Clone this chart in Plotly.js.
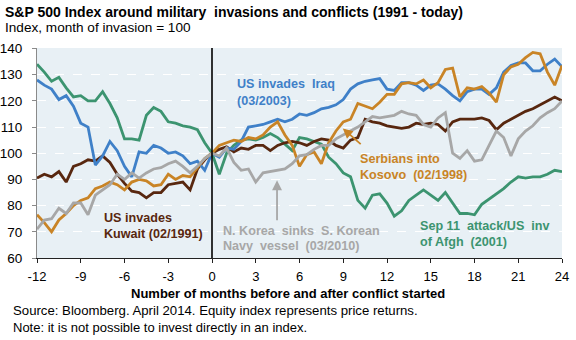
<!DOCTYPE html>
<html>
<head>
<meta charset="utf-8">
<script src="https://cdn.plot.ly/plotly-3.0.1.min.js"></script>
<style>html,body{margin:0;padding:0;background:#fff;}#chart{width:576px;height:340px;}</style>
</head>
<body>
<div id="chart"></div>
<script>
// Months before/after the conflict (x axis)
const months = [-12,-11.5,-11,-10.5,-10,-9.5,-9,-8.5,-8,-7.5,-7,-6.5,-6,-5.5,-5,-4.5,-4,-3.5,-3,-2.5,-2,-1.5,-1,-0.5,
  0,0.5,1,1.5,2,2.5,3,3.5,4,4.5,5,5.5,6,6.5,7,7.5,8,8.5,9,9.5,10,10.5,11,11.5,12,12.5,13,13.5,14,14.5,15,15.5,16,16.5,
  17,17.5,18,18.5,19,19.5,20,20.5,21,21.5,22,22.5,23,23.5,24];

const kuwait1991 = [90.5,92,91,93,89,95,96,97.5,97,99,96.5,92,88.5,85.5,85,83,85,85,88,88.5,89,86,94,97.5,
  100,101.5,102.5,100.5,102,101.5,103,103,101,103,104,104.5,104,103,104.5,105.5,105,103,102,105,106,113,112,111.5,
  110.5,110,109.5,110,111.5,111,111.5,111,108.5,112,113,113,113,113.5,112.5,109,111.5,113,114.5,116,117,118.5,120,121.5,120];

const kosovo1998 = [76.5,73.5,70,74.5,77,80,82,83,86.5,87.5,89,88,86,89,90,89.5,87.5,88,92,90,91.5,91,94.5,98,
  100,103,104,105,104.5,106,105.5,107,110,112,107,103,95,99.5,100.5,96,104,108.5,112,113,119,118,117,119.5,
  122.5,122.5,126.5,127,126.5,128,125,127,132,132.5,121.5,125,124.5,125.5,123,119.5,130,133,134,136.5,138.5,138,131,126,133.5];

const afgh2001 = [134,131,127.5,129,125,121.5,122,120,120,123.5,119,113.5,105.5,105.5,105,114.5,117.5,116,112,111.5,110.5,110,109,104,
  100,92,100,103,105,105.5,105,106,107.5,106,103.5,101,106,105.5,104.5,103.5,98.5,96,92.5,91,82,79,84,84.5,
  81,76,78,82,84,86,84,82,85,81,77,77,76.5,80.5,82.5,84.5,86.5,89,91,90.5,91,91,92,93.5,93];

const iraq2003 = [128,126,124.5,120.5,122,118,111.5,110,95.5,99,104.5,101,95,91,100.5,100,103,102,100,100.5,99,96,97,93.5,
  100,98.5,102,101.5,104.5,110,110.5,111,112,113,112,113,115,114.5,115.5,117,117.5,118.5,120.5,124.5,126.5,127.5,128,128.5,
  124.5,124,127,127,126,124,126,126.5,124.5,122,120,123.5,124.5,124.5,122.5,125,131,133.5,134.5,134.5,131.5,131.5,134,136,133];

const korea2010 = [71,74.5,75,79,77,81,81,76.5,84,86,88,92,90,92.5,90.5,92.5,94,94.5,96,97,95,92.5,95,98,
  100,99,102,96.5,93.5,94,89,92.5,93,93.5,94,96,99,99.5,101.5,103,103,105.5,107,108.5,110,112,114,113.5,
  114,114.5,116,115,114.5,111,110,113.5,115.5,100,98,101,97,97.5,103,108.5,106,99,105.5,108.5,110.5,113.5,115.5,117,120];

const xTickVals = [-12,-9,-6,-3,0,3,6,9,12,15,18,21,24];
const yTickVals = [60,70,80,90,100,110,120,130,140];

const seriesNames = ["Sep 11 attack/US inv of Afgh (2001)","US invades Kuwait (02/1991)","US invades Iraq (03/2003)",
  "Serbians into Kosovo (02/1998)","N. Korea sinks S. Korean Navy vessel (03/2010)"];
const seriesData = [afgh2001, kuwait1991, iraq2003, kosovo1998, korea2010];
const seriesColors = ["#3c9470","#58270f","#3f80c8","#c98426","#a7a7a7"];

const traces = seriesData.map((vals, i) => ({
  x: months, y: vals, type: 'scatter', mode: 'lines', name: seriesNames[i],
  line: {color: seriesColors[i], width: 2.8}, hoverinfo: 'skip'
}));

// layout geometry (pixels -> paper)
const W = 576, H = 340, ML = 37, MR = 14, MT = 48, MB = 82;
const PW = W - ML - MR, PH = H - MT - MB;
const px = x => (x - ML) / PW;
const py = y => 1 - (y - MT) / PH;
const FONT = 'Liberation Sans, Arial, sans-serif';

function label(text, x, y, color, size, bold, anchor) {
  return {text: bold ? '<b>' + text + '</b>' : text, xref: 'paper', yref: 'paper', x: px(x), y: py(y),
    xanchor: anchor || 'left', yanchor: 'middle', align: 'left', showarrow: false,
    font: {family: FONT, size: size, color: color}};
}

const annotations = [
  label('S&P 500 Index around military  invasions and conflicts (1991 - today)', 3, 12, '#000', 14, true),
  label('Index, month of invasion = 100', 3, 28, '#000', 13.6, false),
  label('Number of months before and after conflict started', 288, 293, '#000', 13, true, 'center'),
  label('Source: Bloomberg. April 2014. Equity index represents price returns.', 11, 310, '#000', 13.2, false),
  label('Note: it is not possible to invest directly in an index.', 11, 327, '#000', 13, false),
  label('US invades  Iraq', 235, 84, seriesColors[2], 12.6, true),
  label('(03/2003)', 235, 101, seriesColors[2], 12.6, true),
  label('Serbians into', 358, 159, seriesColors[3], 12.6, true),
  label('Kosovo  (02/1998)', 358, 175, seriesColors[3], 12.6, true),
  label('US invades', 102, 218, seriesColors[1], 12.6, true),
  label('Kuwait (02/1991)', 102, 234, seriesColors[1], 12.6, true),
  label('N. Korea  sinks  S. Korean', 221, 231, seriesColors[4], 12.6, true),
  label('Navy  vessel  (03/2010)', 221, 246, seriesColors[4], 12.6, true),
  label('Sep 11  attack/US  inv', 418, 226, seriesColors[0], 12.6, true),
  label('of Afgh  (2001)', 418, 242, seriesColors[0], 12.6, true),
  {x: 8.97, y: 109.5, ax: 10.3, ay: 103, xref: 'x', yref: 'y', axref: 'x', ayref: 'y', text: '',
   showarrow: true, arrowhead: 2, arrowsize: 1.1, arrowwidth: 1.8, arrowcolor: seriesColors[3]},
  {x: 4.46, y: 89.7, ax: 4.46, ay: 73.8, xref: 'x', yref: 'y', axref: 'x', ayref: 'y', text: '',
   showarrow: true, arrowhead: 2, arrowsize: 1.1, arrowwidth: 1.8, arrowcolor: seriesColors[4]}
];

const layout = {
  width: W, height: H,
  margin: {l: ML, r: MR, t: MT, b: MB, pad: 0},
  paper_bgcolor: '#ffffff', plot_bgcolor: '#e8f0f5',
  showlegend: false,
  font: {family: FONT, size: 13, color: '#000'},
  xaxis: {range: [-12, 24], tickvals: xTickVals, ticktext: xTickVals.map(String), showgrid: false, zeroline: false,
    showline: true, linecolor: '#222', linewidth: 1, ticks: 'outside', ticklen: 4, tickcolor: '#222',
    ticklabelstandoff: 2,
    tickfont: {family: FONT, size: 13, color: '#000'}, fixedrange: true},
  yaxis: {range: [60, 140.2], tickvals: yTickVals, showgrid: true, gridcolor: '#ffffff', griddash: 'dash', gridwidth: 1,
    zeroline: false, showline: true, linecolor: '#8a8a8a', linewidth: 1, ticks: 'outside', ticklen: 4, tickcolor: '#8a8a8a',
    ticklabelstandoff: 7,
    tickfont: {family: FONT, size: 13.5, color: '#000'}, fixedrange: true},
  shapes: [{type: 'line', xref: 'x', yref: 'paper', x0: 0, x1: 0, y0: 0, y1: 1, line: {color: '#000', width: 1.6}}],
  annotations: annotations
};

Plotly.newPlot('chart', traces, layout, {staticPlot: true, displayModeBar: false});
</script>
</body>
</html>
